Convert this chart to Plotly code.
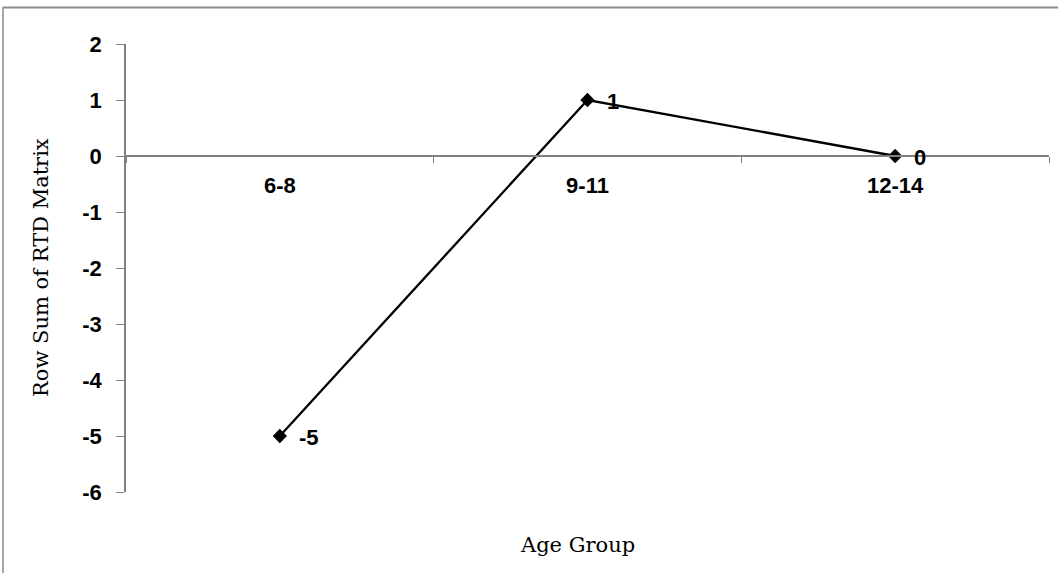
import plotly.graph_objects as go

categories = ["6-8", "9-11", "12-14"]
values = [-5, 1, 0]
y_ticks = [-6, -5, -4, -3, -2, -1, 0, 1, 2]

W, H = 1058, 573
L, R, T, B = 126, 9, 44, 81
pw = W - L - R
ph = H - T - B

def px_x(x):
    return (x - L) / pw

def px_y(y):
    return 1 - (y - T) / ph

label_font = dict(family="Arial", size=22, color="black", weight="bold")
title_font = dict(family="DejaVu Serif", size=21, color="black")

fig = go.Figure()
fig.add_trace(go.Scatter(
    x=categories, y=values,
    mode="lines+markers",
    line=dict(color="black", width=2.3),
    marker=dict(symbol="diamond", size=11, color="black"),
    cliponaxis=False,
    showlegend=False,
    hoverinfo="skip",
))

annotations = [
    dict(text=str(v), x=c, y=v, xref="x", yref="y", showarrow=False,
         xanchor="left", yanchor="middle", xshift=17, yshift=-1, font=label_font)
    for c, v in zip(categories, values)
]
annotations += [
    dict(text="Row Sum of RTD Matrix", xref="paper", yref="paper",
         x=px_x(41), y=px_y(268), textangle=-90, showarrow=False,
         font=title_font, xanchor="center", yanchor="middle"),
    dict(text="Age Group", xref="paper", yref="paper",
         x=px_x(577), y=px_y(545), showarrow=False,
         font=title_font, xanchor="center", yanchor="middle"),
]

fig.update_layout(
    width=W, height=H,
    margin=dict(l=L, r=R, t=T, b=B),
    paper_bgcolor="white", plot_bgcolor="white",
    xaxis=dict(
        type="category", range=[-0.5, 2.5],
        anchor="free", position=6 / 8,
        showline=True, linecolor="#808080", linewidth=1.5,
        ticks="outside", ticklen=6, tickcolor="#808080", tickwidth=1,
        tickson="boundaries", showgrid=False, zeroline=False,
        tickfont=label_font,
        ticklabelstandoff=10,
    ),
    yaxis=dict(
        range=[-6, 2], tickvals=y_ticks, ticktext=[str(t) for t in y_ticks],
        domain=[0, 1],
        showline=True, linecolor="#808080", linewidth=1.5,
        ticks="outside", ticklen=8, tickcolor="#808080", tickwidth=1,
        showgrid=False, zeroline=False,
        tickfont=label_font,
        ticklabelstandoff=10,
    ),
    annotations=annotations,
    shapes=[
        dict(type="line", xref="paper", yref="paper",
             x0=px_x(3), x1=px_x(3), y0=px_y(7), y1=px_y(H + 5),
             line=dict(color="#a6a6a6", width=2)),
        dict(type="line", xref="paper", yref="paper",
             x0=px_x(3), x1=px_x(W + 5), y0=px_y(7.5), y1=px_y(7.5),
             line=dict(color="#8c8c8c", width=2)),
    ],
)

fig.write_html("out.html", config={"displayModeBar": False},
               post_script="document.body.style.margin='0';document.body.style.overflow='hidden';")
